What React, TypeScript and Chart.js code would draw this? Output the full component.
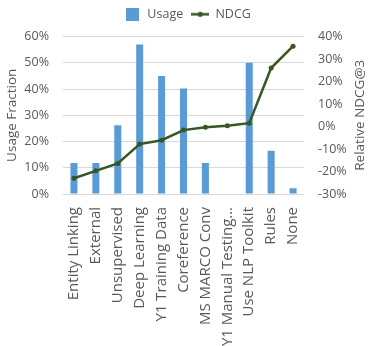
import React, { useEffect, useRef } from 'react';
import { Chart, registerables } from 'chart.js';

Chart.register(...registerables);

const categories = [
  'Entity Linking',
  'External',
  'Unsupervised',
  'Deep Learning',
  'Y1 Training Data',
  'Coreference',
  'MS MARCO Conv',
  'Y1 Manual Testing…',
  'Use NLP Toolkit',
  'Rules',
  'None',
];
const usage = [11.8, 11.8, 26.2, 57, 45, 40.2, 11.8, 0, 50, 16.5, 2.2];
const ndcg = [-23, -19.7, -16.4, -7.8, -6.1, -1.6, -0.3, 0.3, 1.5, 26, 35.7];
const seriesNames = ['Usage', 'NDCG'];
const leftTitle = 'Usage Fraction';
const rightTitle = 'Relative NDCG@3';

const BAR = '#5B9BD5';
const LINE = '#375623';
const TEXT = '#595959';
const FONT = "'Open Sans', sans-serif";

export default function App() {
  const ref = useRef<HTMLCanvasElement | null>(null);

  useEffect(() => {
    document.body.style.margin = '0';
    const canvas = ref.current;
    if (!canvas) return;

    const boxImg = document.createElement('canvas');
    boxImg.width = 13;
    boxImg.height = 13;
    const bctx = boxImg.getContext('2d')!;
    bctx.fillStyle = BAR;
    bctx.fillRect(0, 0, 13, 13);

    const lineImg = document.createElement('canvas');
    lineImg.width = 18;
    lineImg.height = 7;
    const lctx = lineImg.getContext('2d')!;
    lctx.strokeStyle = LINE;
    lctx.lineWidth = 2.5;
    lctx.beginPath();
    lctx.moveTo(0, 3.5);
    lctx.lineTo(18, 3.5);
    lctx.stroke();
    lctx.fillStyle = LINE;
    lctx.beginPath();
    lctx.arc(9, 3.5, 2.6, 0, Math.PI * 2);
    lctx.fill();

    const rightTitlePlugin = {
      id: 'rightTitle',
      afterDraw(chart: any) {
        const { ctx, chartArea } = chart;
        ctx.save();
        ctx.translate(360, (chartArea.top + chartArea.bottom) / 2);
        ctx.rotate(-Math.PI / 2);
        ctx.textAlign = 'center';
        ctx.textBaseline = 'middle';
        ctx.fillStyle = TEXT;
        ctx.font = `13.5px ${FONT}`;
        ctx.fillText(rightTitle, 0, 0);
        ctx.restore();
      },
    };

    const legendGapPlugin = {
      id: 'legendGap',
      beforeUpdate(chart: any) {
        const lg = chart.legend;
        if (lg && !lg._gapPatched) {
          const orig = lg.fit.bind(lg);
          lg.fit = () => {
            orig();
            lg.height += 6;
          };
          lg._gapPatched = true;
        }
      },
    };

    const chart = new Chart(canvas, {
      type: 'bar',
      data: {
        labels: categories,
        datasets: [
          {
            type: 'bar',
            label: seriesNames[0],
            data: usage,
            backgroundColor: BAR,
            yAxisID: 'y',
            barPercentage: 0.32,
            categoryPercentage: 1,
            order: 2,
          },
          {
            type: 'line',
            label: seriesNames[1],
            data: ndcg,
            borderColor: LINE,
            backgroundColor: LINE,
            borderWidth: 2.5,
            pointRadius: 2.5,
            pointBackgroundColor: LINE,
            pointBorderWidth: 0,
            yAxisID: 'y1',
            order: 1,
          } as any,
        ],
      },
      options: {
        responsive: false,
        animation: false,
        layout: { padding: { top: 0, bottom: 0, left: 0, right: 0 } },
        plugins: {
          tooltip: { enabled: false },
          legend: {
            position: 'top',
            labels: {
              color: TEXT,
              font: { family: FONT, size: 12.5 },
              usePointStyle: true,
              pointStyleWidth: 18,
              padding: 8,
              generateLabels(chart: any) {
                const items = Chart.defaults.plugins.legend.labels.generateLabels(chart);
                return items
                  .sort((a: any, b: any) => a.datasetIndex - b.datasetIndex)
                  .map((it: any) => ({
                    ...it,
                    pointStyle: it.datasetIndex === 0 ? boxImg : lineImg,
                  }));
              },
            },
          },
        },
        scales: {
          x: {
            grid: { display: false, drawTicks: false },
            border: { display: false },
            ticks: {
              color: TEXT,
              font: { family: FONT, size: 15 },
              minRotation: 90,
              maxRotation: 90,
              autoSkip: false,
              padding: 13,
            },
            afterFit(scale: any) {
              scale.height = 152;
            },
          },
          y: {
            position: 'left',
            min: 0,
            max: 60,
            grid: { color: '#D9D9D9', drawTicks: false },
            border: { display: false },
            ticks: {
              stepSize: 10,
              color: TEXT,
              font: { family: FONT, size: 12.5 },
              padding: 14,
              callback: (v: any) => `${v}%`,
            },
            title: {
              display: true,
              text: leftTitle,
              color: TEXT,
              font: { family: FONT, size: 13.5 },
              padding: { top: 4, bottom: 0 },
            },
            afterFit(scale: any) {
              scale.width = 63;
            },
          },
          y1: {
            position: 'right',
            min: -30,
            max: 40,
            grid: { display: false, drawTicks: false },
            border: { display: false },
            ticks: {
              stepSize: 10,
              color: TEXT,
              font: { family: FONT, size: 12.5 },
              padding: 14,
              callback: (v: any) => `${v}%`,
            },
            afterFit(scale: any) {
              scale.width = 70;
            },
          },
        },
      },
      plugins: [legendGapPlugin, rightTitlePlugin],
    });

    return () => chart.destroy();
  }, []);

  return (
    <div style={{ width: 374, height: 346 }}>
      <canvas ref={ref} width={374} height={346} style={{ display: 'block' }} />
    </div>
  );
}
